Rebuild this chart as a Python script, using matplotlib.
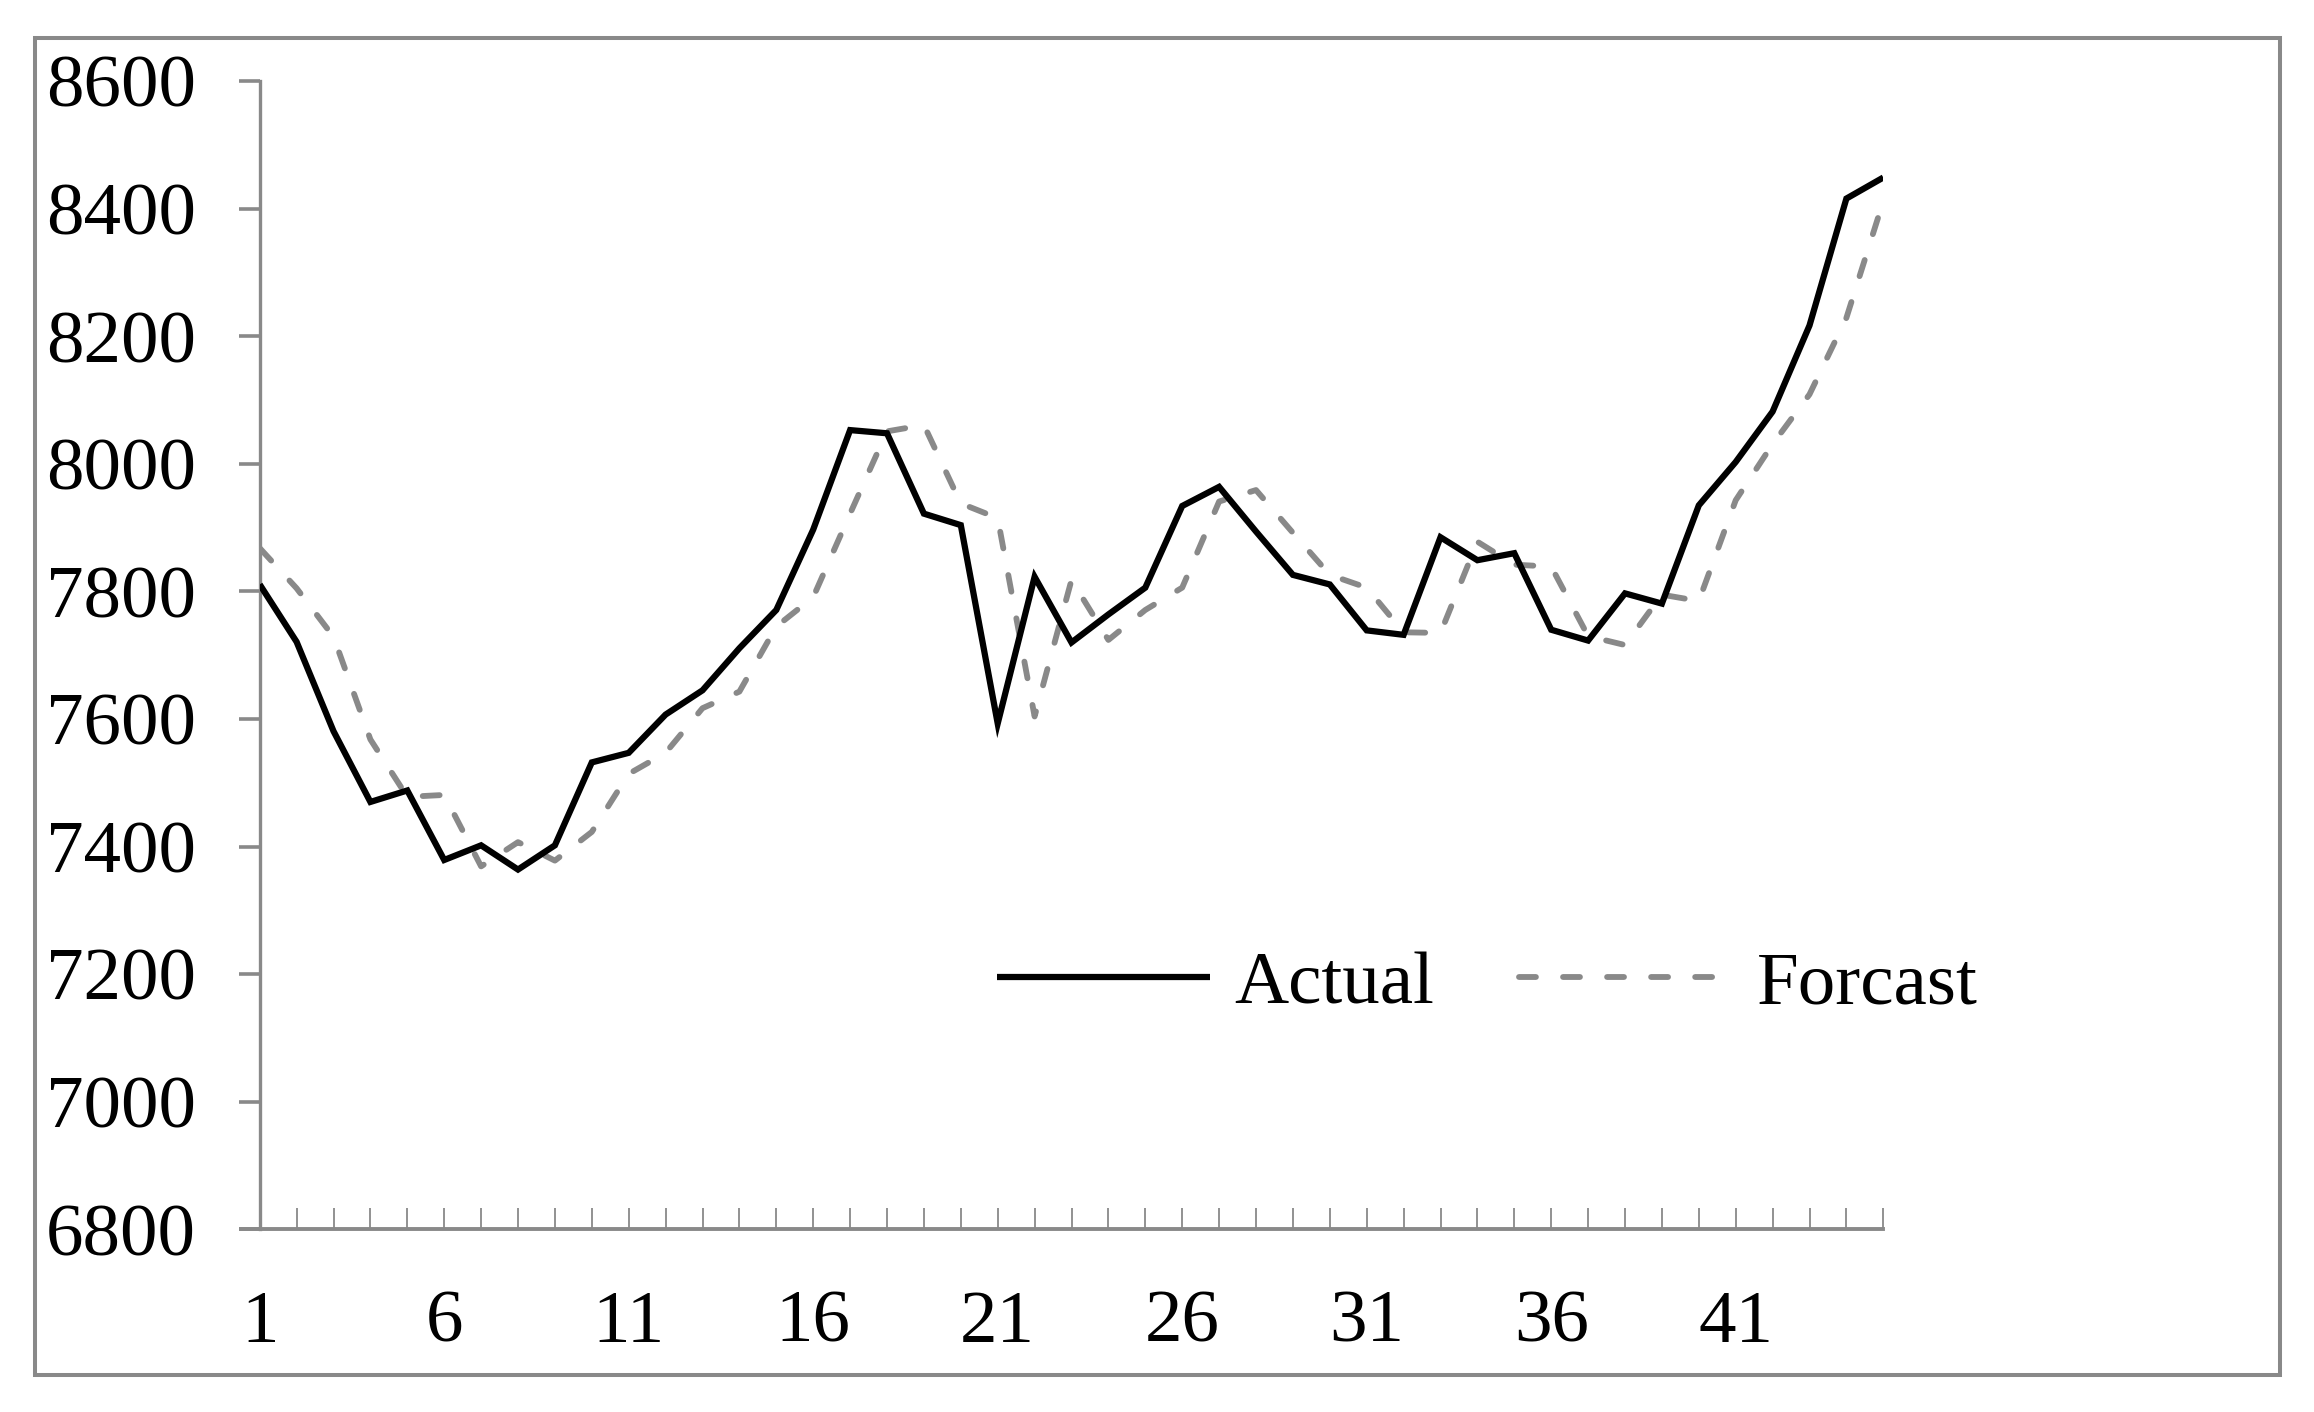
import matplotlib
matplotlib.use("Agg")
import matplotlib.pyplot as plt
from matplotlib.patches import Rectangle

periods = list(range(1, 46))
actual = [7811, 7721, 7581, 7470, 7488, 7379, 7402, 7364, 7402, 7532,
          7547, 7607, 7645, 7711, 7771, 7897, 8053, 8048, 7922, 7904,
          7593, 7823, 7720, 7764, 7806, 7934, 7964, 7894, 7826, 7811,
          7739, 7732, 7885, 7849, 7860, 7740, 7723, 7797, 7781, 7935,
          8003, 8082, 8217, 8416, 8449]
forecast = [7868, 7805, 7729, 7568, 7478, 7481, 7369, 7407, 7378, 7423,
            7514, 7547, 7617, 7643, 7745, 7791, 7922, 8051, 8061, 7938,
            7915, 7604, 7818, 7724, 7771, 7806, 7941, 7959, 7892, 7826,
            7806, 7736, 7735, 7878, 7842, 7839, 7730, 7716, 7795, 7785,
            7943, 8031, 8109, 8229, 8412]
y_ticks = [6800, 7000, 7200, 7400, 7600, 7800, 8000, 8200, 8400, 8600]
x_labels = [str(p) if (p - 1) % 5 == 0 else "" for p in periods]

GRAY = "#898989"
plt.rcParams['font.family'] = ['Liberation Serif', 'DejaVu Serif']

W, H = 2314, 1412
fig = plt.figure(figsize=(W / 100, H / 100), dpi=100)

# outer frame
fig.patches.append(Rectangle((35 / W, 1 - 1375 / H), (2280 - 35) / W, (1375 - 38) / H,
                             transform=fig.transFigure, fill=False,
                             edgecolor=GRAY, linewidth=2.9))

left, right = 259.7 / W, 1883.3 / W
bottom, top = 1 - 1229.3 / H, 1 - 81.2 / H
ax = fig.add_axes([left, bottom, right - left, top - bottom])

ax.plot(periods, actual, color="black", linewidth=4.5, label="Actual",
        solid_joinstyle="miter", solid_capstyle="butt", zorder=3)
ax.plot(periods, forecast, color=GRAY, linewidth=4.2, label="Forcast",
        linestyle=(0, (2.9, 4.65)), dash_capstyle="round", zorder=2)

ax.set_xlim(1, 45)
ax.set_ylim(6800, 8600)

for s in ["top", "right"]:
    ax.spines[s].set_visible(False)
ax.spines["left"].set_color(GRAY)
ax.spines["left"].set_linewidth(2.4)
ax.spines["bottom"].set_color(GRAY)
ax.spines["bottom"].set_linewidth(2.8)

ax.set_yticks(y_ticks)
ax.set_yticklabels([str(v) for v in y_ticks])
ax.tick_params(axis="y", direction="out", length=15, width=2.6, color=GRAY,
               labelsize=54, pad=31)
ax.set_xticks(periods)
ax.set_xticklabels(x_labels)
ax.tick_params(axis="x", direction="in", length=15, width=1.3, color=GRAY,
               labelsize=54, pad=44)

# extend the x-axis line to the left like the y tick
ax.plot([0.44, 1], [6800, 6800], color=GRAY, linewidth=2.8, clip_on=False,
        solid_capstyle="butt", zorder=1)

leg = ax.legend(loc="center", bbox_to_anchor=(0.756, 0.213), ncol=2,
                frameon=False, fontsize=54, handlelength=2.84,
                handletextpad=0.32, columnspacing=1.14)

fig.savefig("out.png", dpi=100, facecolor="white")
